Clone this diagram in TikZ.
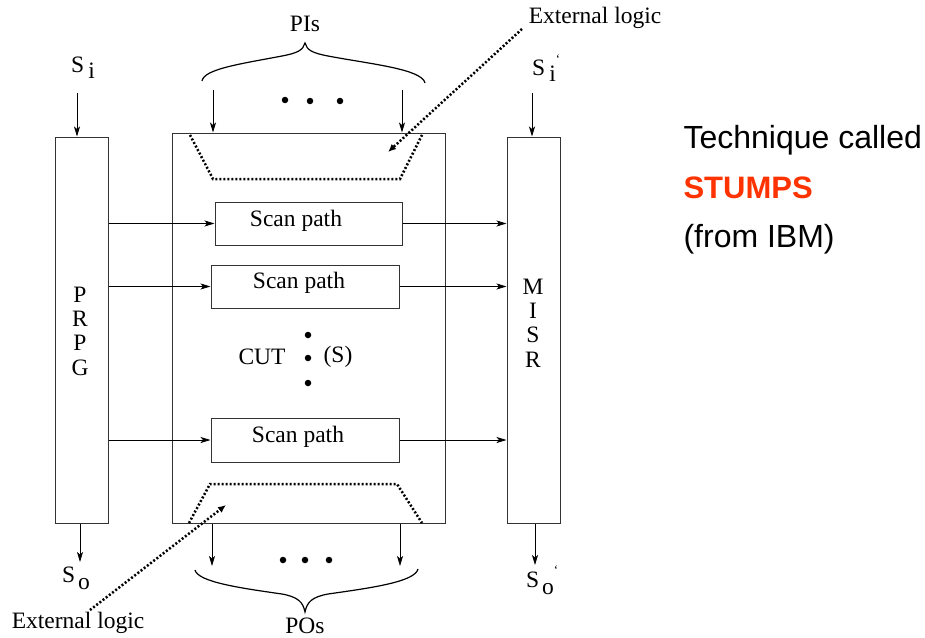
\documentclass[tikz,border=0pt]{standalone}
\usepackage{fontspec}
\setmainfont{Liberation Serif}
\newfontfamily\arialf{Liberation Sans}
\usetikzlibrary{arrows.meta}
\definecolor{stumpred}{HTML}{FF3300}
\begin{document}
\begin{tikzpicture}[x=1pt,y=-1pt,
  font=\fontsize{23.5}{27}\selectfont,
  box/.style={draw=black!80, line width=1pt, inner sep=0pt},
  arr/.style={-{Stealth[length=10pt,width=6pt,inset=2.5pt]}, line width=0.8pt},
  dotln/.style={line width=2.5pt, dash pattern=on 2pt off 2pt},
  extarr/.style={dotln, -{Latex[length=8pt,width=7pt]}},
  brace/.style={line width=1.2pt},
  bigdot/.style={circle, fill=black, inner sep=0pt, minimum size=6.5pt},
  side/.style={anchor=west, font=\arialf\fontsize{32}{38}\selectfont}]
\useasboundingbox (0,0) rectangle (925,637);

% main boxes
\node[box, minimum width=53, minimum height=386] (prpg) at (81.5,330) {};
\node[box, minimum width=273, minimum height=390] (cut) at (308.5,328) {};
\node[box, minimum width=53, minimum height=386] (misr) at (533.5,330) {};
\node[box, minimum width=187, minimum height=43] (sp1) at (308.5,223.5) {};
\node[box, minimum width=188, minimum height=43] (sp2) at (305,286.5) {};
\node[box, minimum width=188, minimum height=44] (sp3) at (305,440) {};
\node (sp1t) at (296,221) {Scan path};
\node (sp2t) at (299,283) {Scan path};
\node (sp3t) at (298,437) {Scan path};

% PRPG / MISR letters
\node (p1) at (80,295) {P};
\node (p2) at (80,319) {R};
\node (p3) at (80,343) {P};
\node (p4) at (80,368) {G};
\node (m1) at (533,287) {M};
\node (m2) at (533,311) {I};
\node (m3) at (533,335) {S};
\node (m4) at (533,360) {R};

% CUT label
\node (cutl) at (262,357) {CUT};
\node (sl) at (338,357) {(S)};
\node[bigdot] (cd1) at (308,335) {};
\node[bigdot] (cd2) at (308,358) {};
\node[bigdot] (cd3) at (308,383) {};

% scan connections
\draw[arr] (sp1.west -| prpg.east) -- (sp1.west);
\draw[arr] (sp2.west -| prpg.east) -- (sp2.west);
\draw[arr] (sp3.west -| prpg.east) -- (sp3.west);
\draw[arr] (sp1.east) -- (sp1.east -| misr.west);
\draw[arr] (sp2.east) -- (sp2.east -| misr.west);
\draw[arr] (sp3.east) -- (sp3.east -| misr.west);

% scan in / out labels
\node (si) at (83,68) {S\hspace{4pt}\raisebox{-6pt}{i}};
\coordinate (sia) at (77,93);
\draw[arr] (sia) -- (sia |- prpg.north);
\node (so) at (76,578) {S\hspace{3pt}\raisebox{-7pt}{o}};
\coordinate (soa) at (80,562);
\draw[arr] (soa |- prpg.south) -- (soa);
\node (sip) at (544,68) {S\hspace{4pt}\raisebox{-6pt}{i}\rlap{\raisebox{12pt}{\fontsize{13}{13}\selectfont`}}};
\coordinate (sipa) at (532,93);
\draw[arr] (sipa) -- (sipa |- misr.north);
\node (sop) at (540,580) {S\hspace{3pt}\raisebox{-7pt}{o}\rlap{\raisebox{13pt}{\fontsize{13}{13}\selectfont`}}};
\coordinate (sopa) at (535,565);
\draw[arr] (sopa |- misr.south) -- (sopa);

% PIs
\node (pis) at (305,24) {PIs};
\draw[brace] (202,81) .. controls (204,69) and (240,64) .. (282,56)
  .. controls (298,53) and (303,50) .. (305,43)
  .. controls (307,50) and (312,53) .. (328,56)
  .. controls (370,64) and (422,69) .. (425,83);
\coordinate (pi1) at (213,90);
\coordinate (pi2) at (402,90);
\draw[arr] (pi1) -- (pi1 |- cut.north);
\draw[arr] (pi2) -- (pi2 |- cut.north);
\node[bigdot] (pd1) at (285,100) {};
\node[bigdot] (pd2) at (310,101) {};
\node[bigdot] (pd3) at (340,101) {};

% POs
\node (pos) at (305,626) {POs};
\draw[brace] (195,570) .. controls (198,582) and (240,588) .. (282,594)
  .. controls (298,597) and (303,602) .. (305,612)
  .. controls (307,602) and (312,597) .. (328,594)
  .. controls (370,588) and (415,582) .. (418,569);
\coordinate (po1) at (212,566);
\coordinate (po2) at (400,566);
\draw[arr] (po1 |- cut.south) -- (po1);
\draw[arr] (po2 |- cut.south) -- (po2);
\node[bigdot] (od1) at (283,560) {};
\node[bigdot] (od2) at (305,560) {};
\node[bigdot] (od3) at (329,560) {};

% external logic regions
\draw[dotln] (190,135) -- (213,179) -- (400,179) -- (422,135);
\draw[dotln] (189,523) -- (210,484) -- (397,484) -- (422,523);
\node (ext1) at (595,18) {External logic};
\coordinate (e1a) at (522,29);
\coordinate (e1b) at (388,152);
\draw[extarr] (e1a) -- (e1b);
\node (ext2) at (78,623) {External logic};
\coordinate (e2a) at (90,610);
\coordinate (e2b) at (226,505);
\draw[extarr] (e2a) -- (e2b);

% side text
\node[side] (tc) at (680,140) {Technique called};
\node[side, font=\arialf\bfseries\fontsize{31}{36}\selectfont, text=stumpred] (st) at (680,188) {STUMPS};
\node[side] (ibm) at (680,239) {(from IBM)};
\end{tikzpicture}
\end{document}
